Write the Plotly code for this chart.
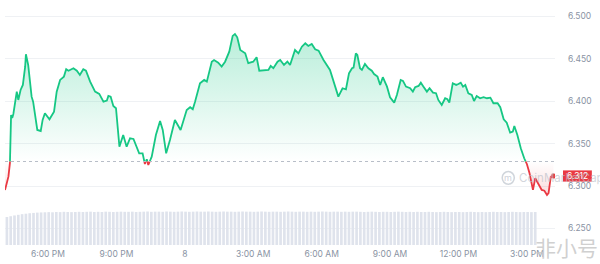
import plotly.graph_objects as go
import pandas as pd

START = "2024-03-07 16:07"

# minutes since START
minutes = [0, 9, 13, 16, 19, 22, 31, 35, 41, 47, 53, 55, 61, 70, 74, 85, 94, 99, 105, 117,
           129, 136, 145, 155, 161, 167, 180, 189, 197, 206, 213, 224, 237, 248, 259, 268, 272, 278, 285, 292,
           301, 311, 320, 329, 338, 347, 353, 362, 368, 373, 377, 386, 397, 408, 415, 424, 434, 447, 462, 478,
           487, 494, 500, 513, 524, 531, 544, 550, 561, 570, 579, 590, 599, 605, 611, 619, 632, 640, 653, 662,
           669, 682, 693, 699, 706, 717, 724, 734, 743, 750, 763, 772, 781, 790, 798, 807, 816, 825, 838, 855,
           864, 877, 888, 897, 905, 913, 917, 923, 927, 934, 939, 947, 956, 965, 971, 980, 987, 994, 1005, 1013,
           1024, 1031, 1041, 1047, 1055, 1066, 1073, 1079, 1088, 1094, 1101, 1110, 1117, 1126, 1134, 1140, 1149, 1158, 1164, 1169,
           1178, 1187, 1193, 1199, 1205, 1211, 1219, 1228, 1234, 1241, 1250, 1259, 1268, 1277, 1285, 1296, 1303, 1312, 1320, 1329,
           1336, 1340, 1348, 1357, 1366, 1373, 1380, 1389, 1395, 1404, 1412, 1419, 1426, 1430, 1436, 1443]

prices = [6.2954, 6.3111, 6.3273, 6.3839, 6.3804, 6.3851, 6.4114, 6.4016, 6.4134, 6.4193, 6.4408, 6.4555, 6.4428, 6.4055, 6.3996, 6.3662, 6.3650, 6.3780, 6.3859, 6.3788,
          6.3878, 6.4114, 6.4252, 6.4291, 6.4378, 6.4361, 6.4390, 6.4361, 6.4311, 6.4378, 6.4361, 6.4232, 6.4114, 6.4087, 6.3996, 6.4008, 6.4063, 6.4055, 6.3945, 6.3918,
          6.3465, 6.3603, 6.3465, 6.3564, 6.3556, 6.3465, 6.3387, 6.3387, 6.3261, 6.3317, 6.3249, 6.3347, 6.3603, 6.3768, 6.3662, 6.3387, 6.3544, 6.3780, 6.3662, 6.3898,
          6.3930, 6.3906, 6.3996, 6.4213, 6.4252, 6.4232, 6.4467, 6.4487, 6.4456, 6.4409, 6.4467, 6.4585, 6.4771, 6.4794, 6.4755, 6.4605, 6.4566, 6.4449, 6.4467, 6.4519,
          6.4361, 6.4370, 6.4370, 6.4417, 6.4390, 6.4467, 6.4487, 6.4428, 6.4467, 6.4428, 6.4605, 6.4566, 6.4644, 6.4684, 6.4653, 6.4676, 6.4614, 6.4597, 6.4487, 6.4370,
          6.4232, 6.4055, 6.4154, 6.4142, 6.4331, 6.4390, 6.4397, 6.4566, 6.4546, 6.4390, 6.4370, 6.4440, 6.4390, 6.4361, 6.4322, 6.4291, 6.4193, 6.4284, 6.4173, 6.4048,
          6.3984, 6.4075, 6.4252, 6.4240, 6.4173, 6.4154, 6.4114, 6.4166, 6.4181, 6.4220, 6.4173, 6.4114, 6.4154, 6.4102, 6.4095, 6.4016, 6.3957, 6.4036, 6.4024, 6.3984,
          6.4213, 6.4193, 6.4204, 6.4220, 6.4173, 6.4193, 6.4095, 6.4075, 6.4004, 6.4063, 6.4036, 6.4048, 6.4036, 6.4043, 6.3977, 6.3977, 6.3930, 6.3788, 6.3748, 6.3630,
          6.3642, 6.3709, 6.3603, 6.3446, 6.3328, 6.3261, 6.3151, 6.2955, 6.3093, 6.3014, 6.2955, 6.2946, 6.2896, 6.2916, 6.3111, 6.3119]

open_price = 6.329
last_label = "6.312"

volumes = [178, 183, 188, 192, 196, 199, 202, 204, 206, 207,
           208, 209, 208, 210, 209, 211, 210, 209, 210, 211,
           210, 211, 212, 210, 211, 210, 212, 211, 210, 211,
           212, 211, 211, 212, 210, 211, 212, 213, 211, 212,
           212, 211, 213, 212, 211, 212, 213, 212, 211, 212,
           213, 212, 212, 213, 212, 211, 212, 213, 212, 212,
           211, 212, 213, 212, 212, 211, 212, 213, 212, 211,
           212, 212, 211, 212, 213, 212, 211, 212, 212, 211,
           212, 211, 212, 213, 212, 211, 212, 212, 211, 212,
           211, 212, 212, 211, 210, 211, 212, 211, 210, 211,
           211, 210, 211, 212, 211, 210, 211, 210, 211, 210,
           210, 211, 210, 209, 210, 211, 210, 209, 210, 210,
           209, 210, 211, 210, 209, 210, 209, 210, 211, 210,
           210, 209, 210, 211, 210, 209, 210, 210, 209, 210]

x_tick_vals = ["2024-03-07 18:00", "2024-03-07 21:00", "2024-03-08 00:00", "2024-03-08 03:00",
               "2024-03-08 06:00", "2024-03-08 09:00", "2024-03-08 12:00", "2024-03-08 15:00"]
x_tick_text = ["6:00 PM", "9:00 PM", "8", "3:00 AM", "6:00 AM", "9:00 AM", "12:00 PM", "3:00 PM"]
y_tick_vals = [6.25, 6.30, 6.35, 6.40, 6.45, 6.50]

GREEN = "#16c784"
RED = "#ea3943"

t0 = pd.Timestamp(START)

# insert baseline crossings so the colour switches exactly at the open price
xs, ys = [], []
for i, p in enumerate(prices):
    if i > 0:
        p0 = prices[i - 1]
        if (p0 - open_price) * (p - open_price) < 0:
            f = (open_price - p0) / (p - p0)
            xs.append(minutes[i - 1] + f * (minutes[i] - minutes[i - 1]))
            ys.append(open_price)
    xs.append(minutes[i])
    ys.append(p)

tx = [t0 + pd.Timedelta(minutes=m) for m in xs]
green_line = [y if y >= open_price else None for y in ys]
red_line = [y if y <= open_price else None for y in ys]
green_fill = [max(y, open_price) for y in ys]
red_fill = [min(y, open_price) for y in ys]
base = [open_price] * len(ys)

vol_t = pd.date_range(t0 + pd.Timedelta(minutes=5), periods=len(volumes), freq="10min")

fig = go.Figure()

fig.add_trace(go.Bar(x=vol_t, y=volumes, yaxis="y2", marker=dict(color="#dfe3ec", line=dict(width=0)),
                     hoverinfo="skip", showlegend=False))

fig.add_trace(go.Scatter(x=tx, y=base, mode="lines", line=dict(width=0), hoverinfo="skip", showlegend=False))
fig.add_trace(go.Scatter(x=tx, y=green_fill, mode="lines", line=dict(width=0), fill="tonexty",
                         fillgradient=dict(type="vertical", start=open_price, stop=max(prices),
                                           colorscale=[[0, "rgba(22,199,132,0.0)"], [1, "rgba(22,199,132,0.30)"]]),
                         hoverinfo="skip", showlegend=False))
fig.add_trace(go.Scatter(x=tx, y=base, mode="lines", line=dict(width=0), hoverinfo="skip", showlegend=False))
fig.add_trace(go.Scatter(x=tx, y=red_fill, mode="lines", line=dict(width=0), fill="tonexty",
                         fillgradient=dict(type="vertical", start=min(prices), stop=open_price,
                                           colorscale=[[0, "rgba(234,57,67,0.18)"], [1, "rgba(234,57,67,0.0)"]]),
                         hoverinfo="skip", showlegend=False))

fig.add_trace(go.Scatter(x=tx, y=green_line, mode="lines", line=dict(color=GREEN, width=1.8, shape="linear"),
                         connectgaps=False, showlegend=False))
fig.add_trace(go.Scatter(x=tx, y=red_line, mode="lines", line=dict(color=RED, width=1.8),
                         connectgaps=False, showlegend=False))
fig.add_trace(go.Scatter(x=[tx[-1]], y=[ys[-1]], mode="markers", marker=dict(color=RED, size=5),
                         showlegend=False))

t_end = t0 + pd.Timedelta(minutes=1447)

fig.add_shape(type="line", xref="x", yref="y", x0=t0, x1=t_end, y0=open_price, y1=open_price,
              line=dict(color="#b8bec8", width=1, dash="dot"))

AX_FONT = dict(family="Inter, Roboto, sans-serif", size=8.5, color="#8a93a3")

fig.update_layout(
    width=600, height=264,
    margin=dict(l=5, r=45, t=0, b=19),
    paper_bgcolor="white", plot_bgcolor="white",
    bargap=0.3,
    xaxis=dict(type="date", range=[t0, t_end], tickvals=x_tick_vals, ticktext=x_tick_text,
               showgrid=False, zeroline=False, showline=False, ticks="", tickfont=AX_FONT,
               ticklabelstandoff=2),
    yaxis=dict(side="right", range=[6.23054, 6.51946], tickvals=y_tick_vals, tickformat=".3f",
               showgrid=True, gridcolor="#eff1f4", gridwidth=1, zeroline=False, showline=False,
               ticks="", tickfont=AX_FONT, ticklabelstandoff=12),
    yaxis2=dict(overlaying="y", range=[0, max(volumes) * 245 / 33.5], visible=False),
    font=dict(family="Inter, Roboto, sans-serif"),
)

# last price label
fig.add_shape(type="rect", xref="paper", yref="y", x0=1.0145, x1=1.067,
              y0=prices[-1] - 0.0066, y1=prices[-1] + 0.0066,
              fillcolor=RED, line=dict(width=0), layer="above")
fig.add_annotation(xref="paper", yref="y", x=1.0405, y=prices[-1], text=last_label, showarrow=False,
                   xanchor="center", yanchor="middle",
                   font=dict(family="Inter, sans-serif", size=8.5, color="white"))

# CoinMarketCap watermark
fig.add_shape(type="circle", xref="paper", yref="paper", x0=0.904, x1=0.926, y0=0.248, y1=0.300,
              line=dict(color="rgba(170,178,190,0.55)", width=1.5), layer="above")
fig.add_annotation(xref="paper", yref="paper", x=0.915, y=0.274, text="m", showarrow=False,
                   xanchor="center", yanchor="middle",
                   font=dict(family="Inter, sans-serif", size=9, color="rgba(170,178,190,0.6)"))
fig.add_annotation(xref="paper", yref="paper", x=0.93, y=0.274, xanchor="left", yanchor="middle",
                   text="CoinMarketCap", showarrow=False,
                   font=dict(family="Inter, sans-serif", size=11.5, color="rgba(185,190,200,0.65)"))

# 非小号 watermark
fig.add_annotation(xref="paper", yref="paper", x=1.082, y=-0.008, xanchor="right", yanchor="middle",
                   text="非小号", showarrow=False,
                   font=dict(family="Noto Sans CJK SC", size=21, color="rgba(200,200,200,0.85)"))

fig.write_html("out.html")
